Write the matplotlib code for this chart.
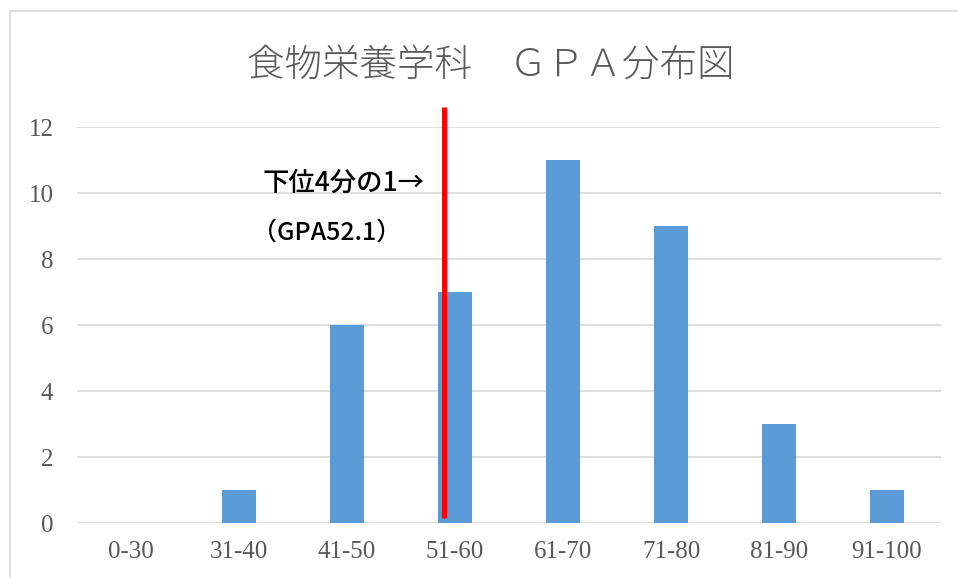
import matplotlib.pyplot as plt
from matplotlib.patches import Rectangle

# GPA distribution data
categories = ['0-30', '31-40', '41-50', '51-60', '61-70', '71-80', '81-90', '91-100']
counts = [0, 1, 6, 7, 11, 9, 3, 1]
yticks = [0, 2, 4, 6, 8, 10, 12]
quartile_x = 2.9  # lower quartile marker (GPA 52.1) in category units

plt.rcParams['font.family'] = ['Noto Sans CJK JP', 'DejaVu Sans']

fig = plt.figure(figsize=(9.58, 5.78), dpi=100)
fig.patch.set_facecolor('white')

# chart frame (cut off at right/bottom like the screenshot)
fig.patches.append(Rectangle((10 / 958, -0.1), 1.2, (578 - 11) / 578 + 0.1,
                             transform=fig.transFigure, fill=False,
                             edgecolor='#d9d9d9', lw=1.2))

ax = fig.add_axes([77 / 958, 55 / 578, 864 / 958, 396 / 578])
ax.bar(range(len(categories)), counts, width=0.31, color='#5b9bd5', zorder=3)

ax.set_xlim(-0.5, len(categories) - 0.5)
ax.set_ylim(0, 12)
ax.set_yticks(yticks)
ax.set_xticks(range(len(categories)))
ax.set_xticklabels(categories)
ax.grid(axis='y', color='#d9d9d9', lw=1.2, zorder=0)
for s in ax.spines.values():
    s.set_visible(False)
ax.tick_params(length=0, colors='#595959')
ax.tick_params(axis='x', pad=13)
ax.tick_params(axis='y', pad=17)
for lab in ax.get_xticklabels() + ax.get_yticklabels():
    lab.set_family('Liberation Serif')
    lab.set_fontsize(18)

# lower-quartile line
ax.plot([quartile_x, quartile_x], [0.15, 12.6], color='#ff0000', lw=3.6,
        clip_on=False, zorder=4, solid_capstyle='butt')
ax.text(2.72, 10.3, '下位4分の1→', ha='right', va='center', fontsize=19,
        fontweight='medium', color='black')
ax.text(1.81, 8.79, '（GPA52.1）', ha='center', va='center', fontsize=18,
        fontweight='medium', color='black')

fig.text(491 / 958, 1 - 65 / 578, '食物栄養学科　ＧＰＡ分布図', ha='center',
         va='center', fontsize=27, fontweight='light', color='#595959')

fig.savefig('out.png', dpi=100)
